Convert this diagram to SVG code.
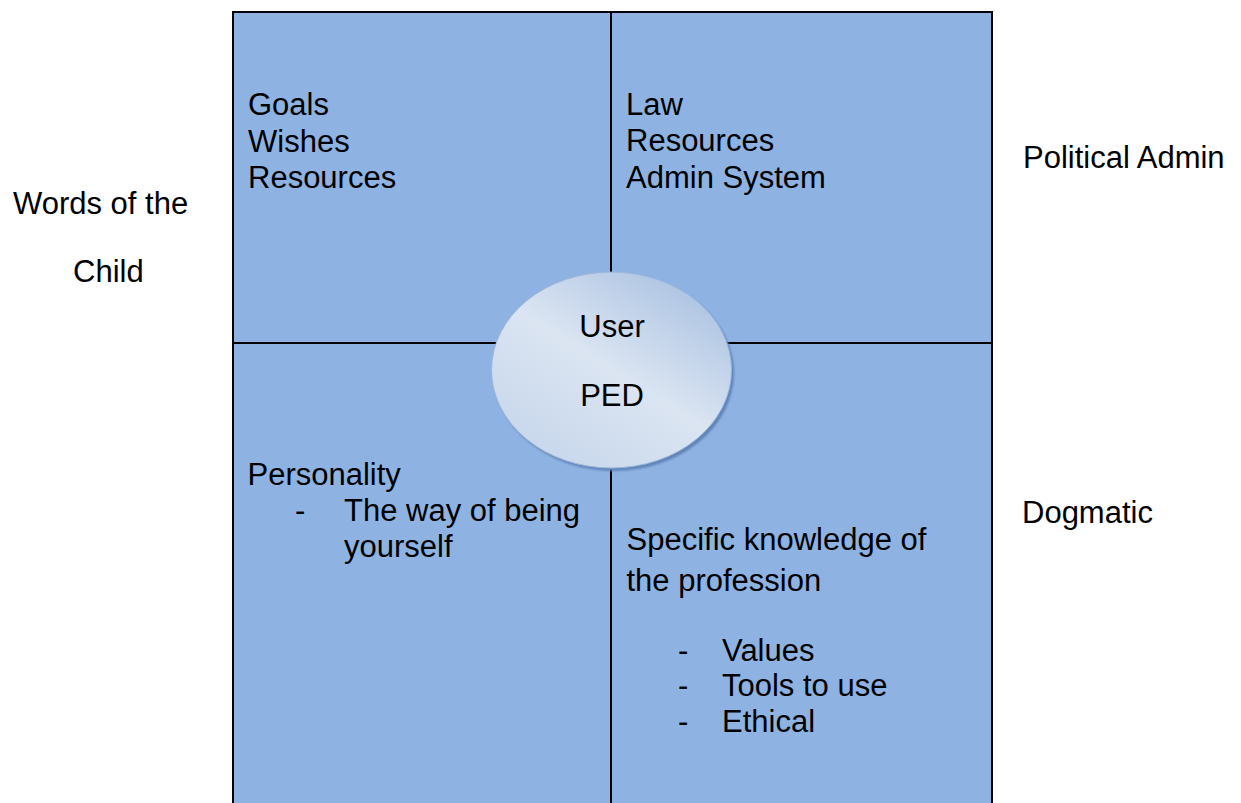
<svg xmlns="http://www.w3.org/2000/svg" width="1241" height="803" viewBox="0 0 1241 803">
  <style>
    .q { fill: #8EB3E2; stroke: #000000; stroke-width: 2; }
    .t { font-family: "Liberation Sans", Arial, sans-serif; font-size: 31px; fill: #000000; }
  </style>
  <defs>
    <linearGradient id="eg" x1="0.85" y1="0.05" x2="0.15" y2="0.95">
      <stop offset="0" stop-color="#abc2e2"/>
      <stop offset="0.5" stop-color="#dbe5f2"/>
      <stop offset="1" stop-color="#c6d6eb"/>
    </linearGradient>
    <filter id="blur" x="-10%" y="-10%" width="120%" height="120%">
      <feGaussianBlur stdDeviation="1.2"/>
    </filter>
  </defs>
  <rect x="0" y="0" width="1241" height="803" fill="#ffffff"/>

  <g id="quadrant-top-left">
    <rect class="q" x="233" y="12" width="378" height="331"/>
    <text class="t" x="248" y="115">Goals</text>
    <text class="t" x="248" y="151.5">Wishes</text>
    <text class="t" x="248" y="188">Resources</text>
  </g>
  <g id="quadrant-top-right">
    <rect class="q" x="611" y="12" width="381" height="331"/>
    <text class="t" x="626" y="114.5">Law</text>
    <text class="t" x="626" y="151">Resources</text>
    <text class="t" x="626" y="188">Admin System</text>
  </g>
  <g id="quadrant-bottom-left">
    <rect class="q" x="233" y="343" width="378" height="480"/>
    <text class="t" x="247.5" y="484.5">Personality</text>
    <text class="t" x="295" y="521">-</text>
    <text class="t" x="344" y="521">The way of being</text>
    <text class="t" x="344" y="557">yourself</text>
  </g>
  <g id="quadrant-bottom-right">
    <rect class="q" x="611" y="343" width="381" height="480"/>
    <text class="t" x="626.5" y="550">Specific knowledge of</text>
    <text class="t" x="626.5" y="590.5">the profession</text>
    <text class="t" x="678" y="660.5">-</text>
    <text class="t" x="722" y="660.5">Values</text>
    <text class="t" x="678" y="695.5">-</text>
    <text class="t" x="722" y="695.5">Tools to use</text>
    <text class="t" x="678" y="731.5">-</text>
    <text class="t" x="722" y="731.5">Ethical</text>
  </g>

  <g id="center-ellipse">
    <ellipse cx="614" cy="373" rx="120" ry="98" fill="#5f84ba" filter="url(#blur)"/>
    <ellipse cx="611.5" cy="370" rx="120" ry="98" fill="url(#eg)" stroke="#9db6d9" stroke-width="1"/>
    <text class="t" x="612" y="337" text-anchor="middle">User</text>
    <text class="t" x="612" y="406" text-anchor="middle">PED</text>
  </g>

  <g id="label-words-of-the-child">
    <text class="t" x="13" y="213.5">Words of the</text>
    <text class="t" x="73" y="282">Child</text>
  </g>
  <g id="label-political-admin">
    <text class="t" x="1023" y="168">Political Admin</text>
  </g>
  <g id="label-dogmatic">
    <text class="t" x="1022" y="523">Dogmatic</text>
  </g>

  <g id="connectors"></g>
</svg>
